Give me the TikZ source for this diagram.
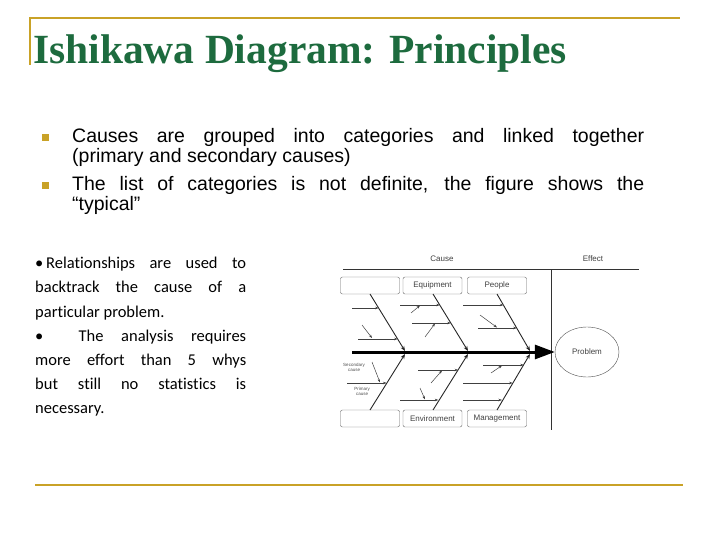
\documentclass[tikz,border=0pt]{standalone}
\usepackage{fontspec}
\setmainfont{Liberation Sans}
\newfontfamily\titlefont{Liberation Serif}
\newfontfamily\bodyfont[Ligatures=NoCommon]{Carlito}
\usetikzlibrary{arrows.meta,shapes.geometric}
\definecolor{gold}{HTML}{C9A227}
\definecolor{tgreen}{HTML}{1D6B3E}
\tikzset{
 gl/.style={gold,line width=1.6pt},
 ln/.style={line width=0.6pt,black!80},
 bone/.style={line width=0.9pt,black!85,-{Stealth[length=5pt,width=4pt]}},
 sub/.style={line width=0.5pt,black!75,-{Stealth[length=3.5pt,width=2.5pt]}},
 cbox/.style={draw=black!60,rounded corners=2pt,minimum width=59pt,minimum height=17pt,inner sep=0pt,font=\fontsize{8}{9}\selectfont,text=black!75},
 lab/.style={font=\fontsize{8}{9}\selectfont,text=black!75},
 tiny/.style={font=\fontsize{4.5}{5}\selectfont,text=black!70,align=center,inner sep=0pt}
}
\begin{document}
\begin{tikzpicture}[x=1pt,y=-1pt]
\useasboundingbox (0,0) rectangle (720,540);
\draw[gl] (30,18) coordinate (t1) -- (680,18) coordinate (t2);
\draw[gl] (30,17) coordinate (v1) -- (30,65) coordinate (v2);
\draw[gl] (35,485) coordinate (b1) -- (683,485) coordinate (b2);
\node[anchor=base west,inner sep=0pt,text=tgreen,font=\titlefont\bfseries\fontsize{41.5}{44}\selectfont] (title) at (33,64) {Ishikawa Diagram: Principles};
% bullets
\fill[gold] (42,134) rectangle (49,141); \fill[gold] (42,182) rectangle (49,189);
\node[anchor=north west,inner sep=0pt,text width=572pt,align=justify,font=\fontsize{19.5}{20.5}\selectfont] (b1t) at (72,128) {Causes are grouped into categories and linked together\linebreak (primary and secondary causes)};
\node[anchor=north west,inner sep=0pt,text width=572pt,align=justify,font=\fontsize{19.5}{20.5}\selectfont] (b2t) at (72,176) {The list of categories is not definite, the figure shows the\linebreak ``typical''};
\node[anchor=north west,inner sep=0pt,text width=211pt,align=justify,font=\bodyfont\fontsize{16.5}{24.2}\selectfont] (left) at (35,257) {\hyphenpenalty=10000 \textbullet\,Relationships are used to\linebreak backtrack the cause of a\linebreak particular problem.\\ \textbullet\ \ The analysis requires\linebreak more effort than 5 whys\linebreak but still no statistics is\linebreak necessary.};
% diagram
\draw[ln] (343,269) coordinate (h1) -- (639,269) coordinate (h2);
\draw[ln] (551,269) coordinate (w1) -- (551,430) coordinate (w2);
\node[lab] (cause) at (442,259) {Cause};
\node[lab] (effect) at (593,259) {Effect};
\node[draw=black!70,ellipse,minimum width=64pt,minimum height=50pt,inner sep=0pt,lab] (prob) at (587,352) {Problem};
\coordinate (s0) at (352,352);
\draw[line width=3pt,black,-{Triangle[length=20pt,width=14pt]}] (s0) -- (prob.west);
\node[cbox] (c1) at (370,285.5) {};
\node[cbox] (c2) at (432.5,285.5) {Equipment};
\node[cbox] (c3) at (497,285.5) {People};
\node[cbox] (d1) at (370,418.5) {};
\node[cbox] (d2) at (432.5,418.5) {Environment};
\node[cbox] (d3) at (497,418.5) {Management};
% main bones
\draw[bone] (370,294) -- (405,351);
\draw[bone] (433,294) -- (468,351);
\draw[bone] (497,294) -- (530,351);
\draw[bone] (370,410) -- (405,354);
\draw[bone] (433,410) -- (468,354);
\draw[bone] (497,410) -- (530,354);
% top 1
\draw[sub] (352,308) -- (378.6,308);
\draw[sub] (358,339) -- (397.6,339);
\draw[sub] (362,325) -- (372,338);
% top 2
\draw[sub] (400,305) -- (439.8,305);
\draw[sub] (412,323) -- (450.8,323);
\draw[sub] (411,313) -- (420,305.5);
\draw[sub] (425,337) -- (435,323.5);
% top 3
\draw[sub] (463,305) -- (503.4,305);
\draw[sub] (478,328) -- (516.7,328);
\draw[sub] (480,315) -- (497,327.5);
% bottom 1
\draw[sub] (347,383) -- (386.5,383);
\draw[sub] (372,362) -- (380,382.5);
\node[tiny] (sec) at (354,367) {Secondary\\cause};
\node[tiny] (pri) at (362,391) {Primary\\cause};
% bottom 2
\draw[sub] (418,370) -- (458.1,370);
\draw[sub] (400,400) -- (438.3,400);
\draw[sub] (431,383) -- (442,370.5);
\draw[sub] (420,388) -- (425,399.5);
% bottom 3
\draw[sub] (483,365) -- (523.8,365);
\draw[sub] (463,383) -- (512.6,383);
\draw[sub] (463,400) -- (502,400);
\draw[sub] (491,373) -- (502,365.5);
\end{tikzpicture}
\end{document}
